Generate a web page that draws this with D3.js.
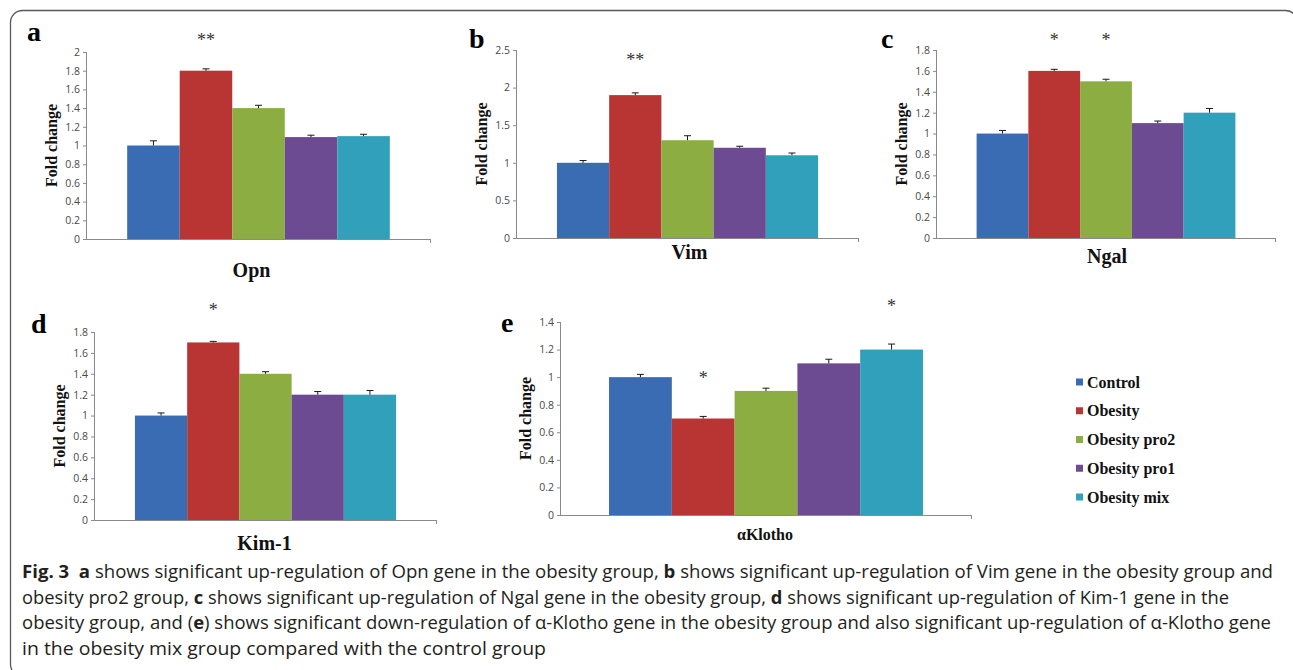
<!DOCTYPE html>
<html>
<head>
<meta charset="utf-8">
<script src="https://cdn.jsdelivr.net/npm/d3@7"></script>
<style>
  html, body { margin: 0; padding: 0; background: #fff; }
  svg { display: block; }
</style>
</head>
<body>
<div id="chart"></div>
<script>
const groups = ["Control", "Obesity", "Obesity pro2", "Obesity pro1", "Obesity mix"]
const groupColors = ["#3a6cb3", "#b83534", "#8bad41", "#6d4b92", "#31a0bb"]

const opnMean = [1.0, 1.8, 1.4, 1.09, 1.1]
const opnErr = [0.05, 0.02, 0.03, 0.02, 0.02]
const opnSig = ["", "**", "", "", ""]
const opnTicks = [0, 0.2, 0.4, 0.6, 0.8, 1, 1.2, 1.4, 1.6, 1.8, 2]

const vimMean = [1.0, 1.9, 1.3, 1.2, 1.1]
const vimErr = [0.03, 0.03, 0.06, 0.02, 0.03]
const vimSig = ["", "**", "", "", ""]
const vimTicks = [0, 0.5, 1, 1.5, 2, 2.5]

const ngalMean = [1.0, 1.6, 1.5, 1.1, 1.2]
const ngalErr = [0.03, 0.015, 0.02, 0.02, 0.04]
const ngalSig = ["", "*", "*", "", ""]
const ngalTicks = [0, 0.2, 0.4, 0.6, 0.8, 1, 1.2, 1.4, 1.6, 1.8]

const kimMean = [1.0, 1.7, 1.4, 1.2, 1.2]
const kimErr = [0.025, 0.01, 0.02, 0.03, 0.04]
const kimSig = ["", "*", "", "", ""]
const kimTicks = [0, 0.2, 0.4, 0.6, 0.8, 1, 1.2, 1.4, 1.6, 1.8]

const klothoMean = [1.0, 0.7, 0.9, 1.1, 1.2]
const klothoErr = [0.02, 0.015, 0.02, 0.03, 0.04]
const klothoSig = ["", "*", "", "", "*"]
const klothoTicks = [0, 0.2, 0.4, 0.6, 0.8, 1, 1.2, 1.4]

const captionLines = [
    [["Fig. 3", true], ["  ", false], ["a", true], [" shows significant up-regulation of Opn gene in the obesity group, ", false], ["b", true], [" shows significant up-regulation of Vim gene in the obesity group and", false]],
    [["obesity pro2 group, ", false], ["c", true], [" shows significant up-regulation of Ngal gene in the obesity group, ", false], ["d", true], [" shows significant up-regulation of Kim-1 gene in the", false]],
    [["obesity group, and (", false], ["e", true], [") shows significant down-regulation of α-Klotho gene in the obesity group and also significant up-regulation of α-Klotho gene", false]],
    [["in the obesity mix group compared with the control group", false]]
]

// panel placement (pixels)
const panels = [
    { letter: "a", gene: "Opn", mean: opnMean, err: opnErr, sig: opnSig, ticks: opnTicks,
      x0: 87, x1: 430, y0: 239, yTop: 52, lx: 27, ly: 41, titleDy: 38, titleDx: -7, titleSize: 20, starGap: 31 },
    { letter: "b", gene: "Vim", mean: vimMean, err: vimErr, sig: vimSig, ticks: vimTicks,
      x0: 517, x1: 858, y0: 238, yTop: 50, lx: 469, ly: 48, titleDy: 21, titleDx: 2, titleSize: 20, starGap: 35 },
    { letter: "c", gene: "Ngal", mean: ngalMean, err: ngalErr, sig: ngalSig, ticks: ngalTicks,
      x0: 937, x1: 1275, y0: 238, yTop: 50, lx: 881, ly: 48, titleDy: 25, titleDx: 1, titleSize: 20, starGap: 31 },
    { letter: "d", gene: "Kim-1", mean: kimMean, err: kimErr, sig: kimSig, ticks: kimTicks,
      x0: 95, x1: 436, y0: 520, yTop: 332, lx: 31, ly: 333, titleDy: 30, titleDx: -1, titleSize: 20, starGap: 33 },
    { letter: "e", gene: "αKlotho", mean: klothoMean, err: klothoErr, sig: klothoSig, ticks: klothoTicks,
      x0: 561, x1: 971, y0: 515, yTop: 322, lx: 501, ly: 332, titleDy: 25, titleDx: -1, titleSize: 16, starGap: 40 }
]

const W = 1293, H = 670
const serif = "'Liberation Serif', 'Times New Roman', serif"

const svg = d3.select("#chart").append("svg")
    .attr("width", W)
    .attr("height", H)

// outer frame
svg.append("rect")
    .attr("x", 10.5).attr("y", 10.5)
    .attr("width", 1287).attr("height", 666)
    .attr("rx", 12)
    .attr("fill", "none")
    .attr("stroke", "#5a5a5a")
    .attr("stroke-width", 1.3)

panels.forEach(p => {
    const g = svg.append("g")

    const y = d3.scaleLinear()
        .domain([0, p.ticks[p.ticks.length - 1]])
        .range([p.y0, p.yTop])

    const outer = d3.scaleBand()
        .domain([p.gene])
        .range([p.x0, p.x1])
        .paddingInner(0)
        .paddingOuter(0.153)

    const x = d3.scaleBand()
        .domain(groups)
        .range([outer(p.gene), outer(p.gene) + outer.bandwidth()])
        .padding(0)

    const color = d3.scaleOrdinal().domain(groups).range(groupColors)

    const rows = groups.map((grp, i) => ({ grp, v: p.mean[i], e: p.err[i], s: p.sig[i] }))

    // bars
    g.selectAll("rect.bar").data(rows)
        .enter()
        .append("rect")
        .attr("class", "bar")
        .attr("x", d => x(d.grp))
        .attr("width", x.bandwidth())
        .attr("y", d => y(d.v))
        .attr("height", d => y(0) - y(d.v))
        .attr("fill", d => color(d.grp))

    // error bars (upper only)
    const eb = g.selectAll("g.err").data(rows)
        .enter()
        .append("g")
        .attr("class", "err")
        .attr("stroke", "#1a1a1a")
        .attr("stroke-width", 1)
    eb.append("line")
        .attr("x1", d => x(d.grp) + x.bandwidth() / 2)
        .attr("x2", d => x(d.grp) + x.bandwidth() / 2)
        .attr("y1", d => y(d.v))
        .attr("y2", d => y(d.v + d.e))
    eb.append("line")
        .attr("x1", d => x(d.grp) + x.bandwidth() / 2 - 3.5)
        .attr("x2", d => x(d.grp) + x.bandwidth() / 2 + 3.5)
        .attr("y1", d => y(d.v + d.e))
        .attr("y2", d => y(d.v + d.e))

    // significance marks, one row per panel above the highest marked bar
    const marked = rows.filter(d => d.s)
    g.selectAll("text.sig").data(marked)
        .enter()
        .append("text")
        .attr("class", "sig")
        .attr("x", d => x(d.grp) + x.bandwidth() / 2)
        .attr("y", d => (p.letter === "e" ? y(d.v + d.e) : y(d3.max(marked, m => m.v + m.e))) - p.starGap + 8)
        .attr("text-anchor", "middle")
        .attr("font-family", serif)
        .attr("font-size", 18)
        .attr("fill", "#333")
        .text(d => d.s)

    // y axis
    const fmt = d => String(+d.toFixed(1))
    const yAxis = g.append("g")
        .attr("transform", `translate(${p.x0},0)`)
        .call(d3.axisLeft(y).tickValues(p.ticks).tickFormat(fmt).tickSize(4).tickPadding(3))
    yAxis.select(".domain").attr("stroke", "#8a8a8a").attr("d", `M-0.5,${p.y0}V${p.yTop}`)
    yAxis.selectAll(".tick line").attr("stroke", "#8a8a8a")
    yAxis.selectAll(".tick text")
        .attr("font-family", "'Open Sans', sans-serif")
        .attr("font-size", 10.5)
        .attr("fill", "#4a4a4a")

    // x axis
    const xEnds = d3.scaleLinear().domain([0, 1]).range([p.x0, p.x1])
    const xAxis = g.append("g")
        .attr("transform", `translate(0,${p.y0})`)
        .call(d3.axisBottom(xEnds).tickValues([1]).tickSize(4).tickFormat(""))
    xAxis.select(".domain").attr("stroke", "#8a8a8a").attr("d", `M${p.x0},0.5H${p.x1}`)
    xAxis.selectAll(".tick line").attr("stroke", "#8a8a8a")

    // y label
    g.append("text")
        .attr("transform", `translate(${p.x0 - 36},${(p.y0 + p.yTop) / 2}) rotate(-90)`)
        .attr("text-anchor", "middle")
        .attr("dominant-baseline", "central")
        .attr("font-family", serif)
        .attr("font-weight", "bold")
        .attr("font-size", 16)
        .attr("fill", "#111")
        .text("Fold change")

    // gene title
    g.append("text")
        .attr("x", (p.x0 + p.x1) / 2 + p.titleDx)
        .attr("y", p.y0 + p.titleDy)
        .attr("text-anchor", "middle")
        .attr("font-family", serif)
        .attr("font-weight", "bold")
        .attr("font-size", p.titleSize)
        .attr("fill", "#111")
        .text(p.gene)

    // panel letter
    g.append("text")
        .attr("x", p.lx)
        .attr("y", p.ly)
        .attr("font-family", serif)
        .attr("font-weight", "bold")
        .attr("font-size", 28)
        .attr("fill", "#000")
        .text(p.letter)
})

// legend
const legY = d3.scalePoint().domain(groups).range([382, 497])
const leg = svg.append("g").selectAll("g").data(groups)
    .enter()
    .append("g")
    .attr("transform", d => `translate(1076,${legY(d)})`)
leg.append("rect")
    .attr("x", 0).attr("y", -3.5)
    .attr("width", 7).attr("height", 7)
    .attr("fill", (d, i) => groupColors[i])
leg.append("text")
    .attr("x", 11)
    .attr("y", 0)
    .attr("dominant-baseline", "central")
    .attr("font-family", serif)
    .attr("font-weight", "bold")
    .attr("font-size", 16)
    .attr("fill", "#111")
    .text(d => d)

// caption
const capWidths = [1251, 1207, 1249, 524]
captionLines.forEach((parts, i) => {
    const t = svg.append("text")
        .attr("x", 22)
        .attr("y", 578 + i * 25.7)
        .attr("font-family", "'Open Sans', sans-serif")
        .attr("font-size", 18)
        .attr("fill", "#231f20")
        .attr("xml:space", "preserve")
        .style("white-space", "pre")
        .attr("textLength", capWidths[i])
        .attr("lengthAdjust", "spacingAndGlyphs")
    parts.forEach(([s, bold]) => {
        t.append("tspan")
            .attr("font-weight", bold ? "bold" : "normal")
            .text(s)
    })
})
</script>
</body>
</html>
